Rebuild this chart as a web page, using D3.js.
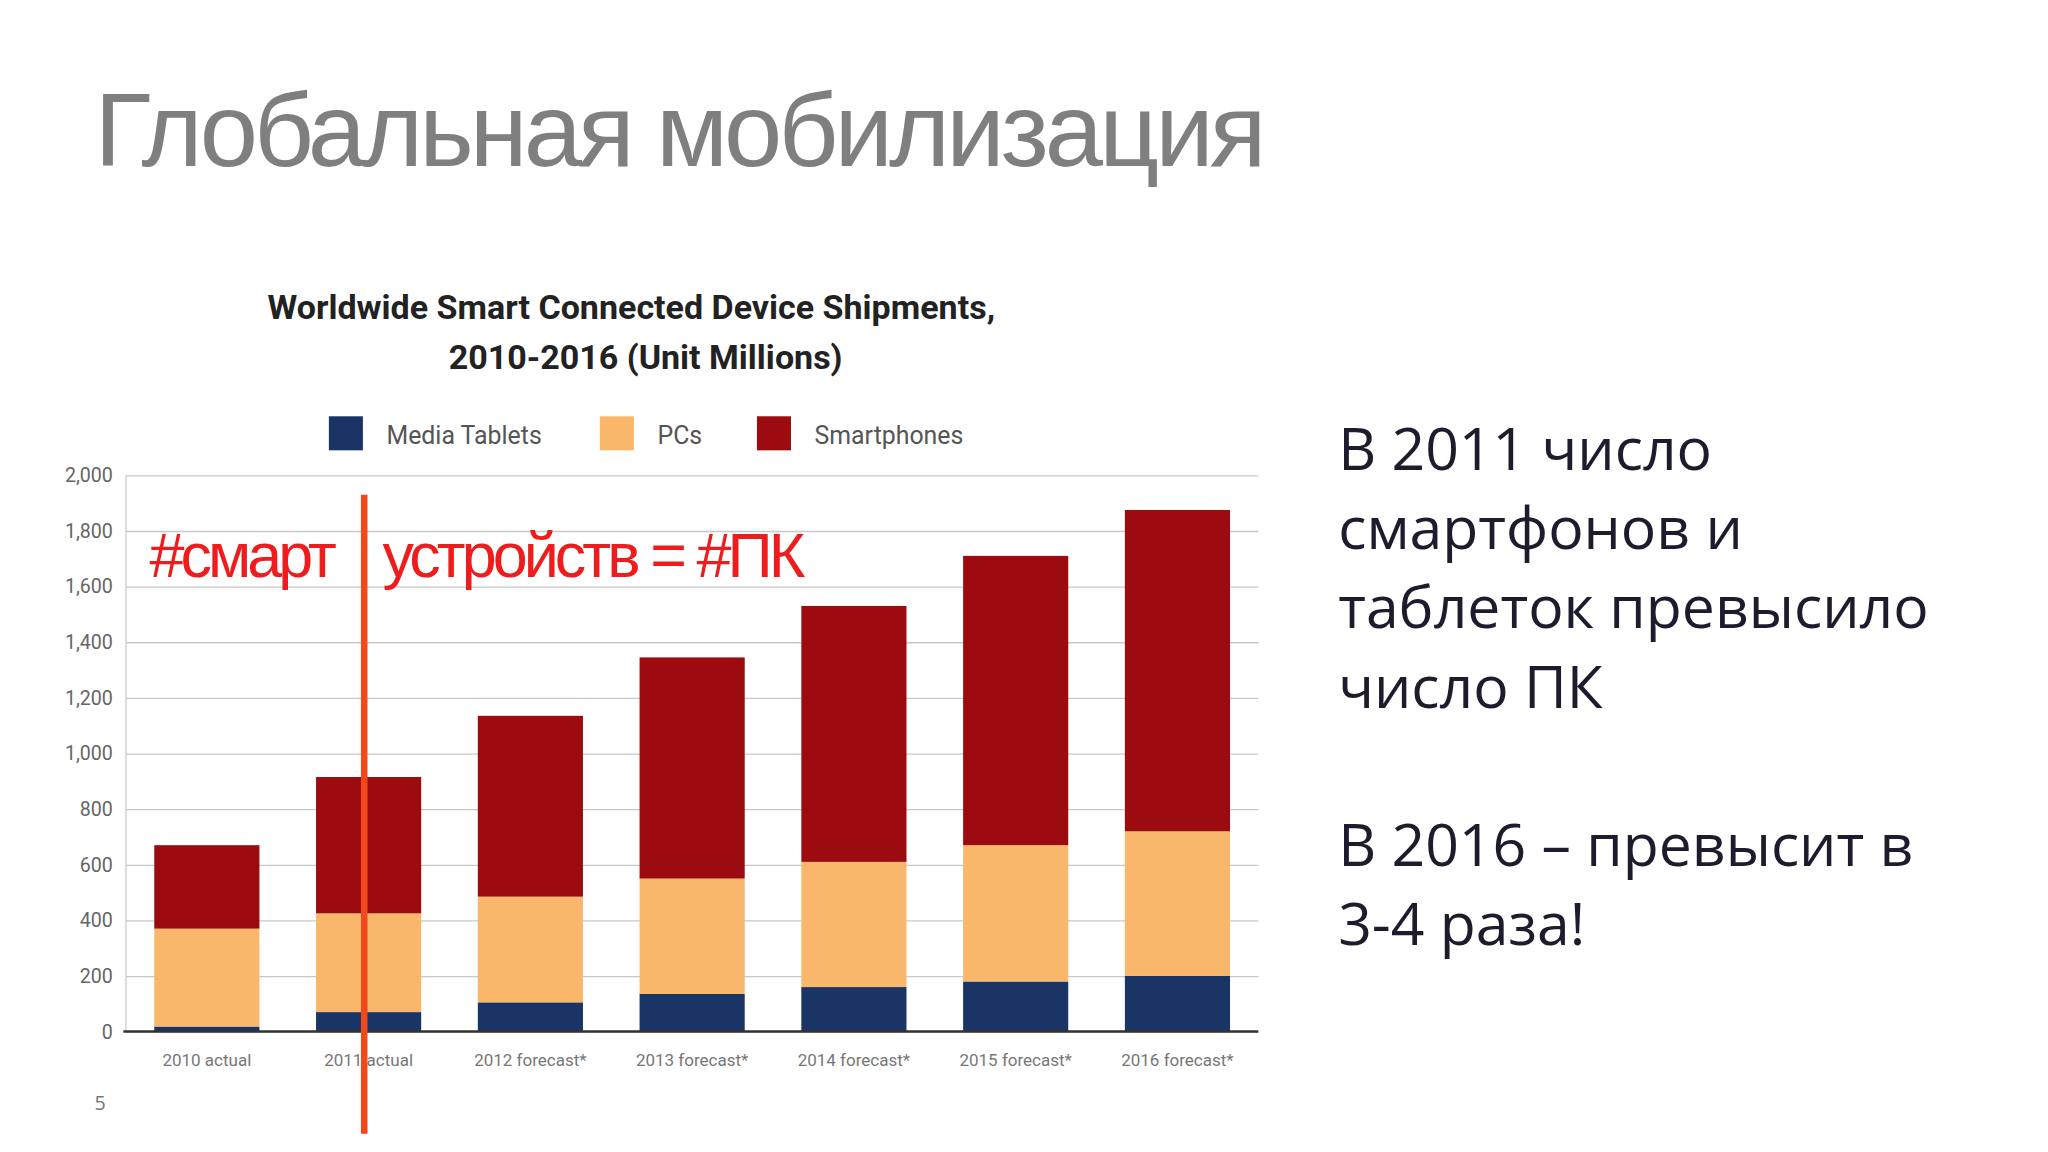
<!DOCTYPE html>
<html><head><meta charset="utf-8">
<script src="https://cdn.jsdelivr.net/npm/d3@7"></script>
<style>body{margin:0;background:#fff}</style></head>
<body><svg id="c"></svg>
<script>
const categories = ["2010 actual","2011 actual","2012 forecast*","2013 forecast*","2014 forecast*","2015 forecast*","2016 forecast*"];
const tablets = [18, 70, 105, 135, 160, 180, 200];
const pcs = [352, 355, 380, 415, 450, 490, 520];
const phones = [300, 490, 650, 795, 920, 1040, 1155];
const yTicks = [0,200,400,600,800,1000,1200,1400,1600,1800,2000];
const seriesNames = ["Media Tablets","PCs","Smartphones"];
const colors = ["#1b3466","#f8b76b","#9b0b0f"];

const svg = d3.select("#c").attr("width",2048).attr("height",1152).attr("viewBox","0 0 1552 880");
const rows = categories.map((c,i)=>({cat:c, t:tablets[i], p:pcs[i], s:phones[i]}));
const stack = d3.stack().keys(["t","p","s"])(rows);

const x = d3.scaleBand().domain(categories).range([90,955]).paddingInner(0.35).paddingOuter(0.175);
const y = d3.scaleLinear().domain([0,2000]).range([788,363]);

svg.append("text").attr("x",66).attr("y",127).attr("font-family","Liberation Sans, Arial").attr("font-size",80)
  .attr("fill","#7f7f7f").attr("letter-spacing",-3).text("Глобальная мобилизация");

svg.append("text").attr("x",476).attr("y",244).attr("text-anchor","middle").attr("font-family","Roboto").attr("font-weight","bold").attr("font-size",26).attr("fill","#222").text("Worldwide Smart Connected Device Shipments,");
svg.append("text").attr("x",487).attr("y",282).attr("text-anchor","middle").attr("font-family","Roboto").attr("font-weight","bold").attr("font-size",26).attr("fill","#222").text("2010-2016 (Unit Millions)");

// legend
const lx = [245, 452, 572];
seriesNames.forEach((n,i)=>{
  svg.append("rect").attr("x",lx[i]).attr("y",318).attr("width",26).attr("height",26).attr("fill",colors[i]);
  svg.append("text").attr("x",lx[i]+44).attr("y",339).attr("font-family","Roboto").attr("font-size",19).attr("fill","#555").text(n);
});

// grid + y axis
const ya = svg.append("g").attr("transform","translate(90,0)")
  .call(d3.axisLeft(y).tickValues(yTicks).tickSize(-865).tickFormat(d3.format(",")));
ya.select(".domain").remove();
ya.selectAll("line").attr("stroke","#c8c8c8");
ya.selectAll("text").attr("x",-10).attr("font-family","Roboto").attr("font-size",15).attr("fill","#666");
svg.append("line").attr("x1",90).attr("x2",90).attr("y1",363).attr("y2",788).attr("stroke","#ccc");

svg.append("g").selectAll("g").data(stack).join("g").attr("fill",(d,i)=>colors[i])
  .selectAll("rect").data(d=>d).join("rect")
  .attr("x",d=>x(d.data.cat)).attr("width",x.bandwidth())
  .attr("y",d=>y(d[1])).attr("height",d=>y(d[0])-y(d[1]));

svg.append("line").attr("x1",88).attr("x2",955).attr("y1",788).attr("y2",788).attr("stroke","#333").attr("stroke-width",2);

const xa = svg.append("g").attr("transform","translate(0,788)").call(d3.axisBottom(x).tickSize(0));
xa.select(".domain").remove();
xa.selectAll("text").attr("dy",23).attr("font-family","Roboto").attr("font-size",13).attr("fill","#777");

// annotation
svg.append("text").attr("x",108).attr("y",441).attr("font-family","Liberation Sans, Arial").attr("font-size",48)
  .attr("fill","#ee1c1c").attr("letter-spacing",-3).text("#смарт");
svg.append("text").attr("x",286).attr("y",441).attr("font-family","Liberation Sans, Arial").attr("font-size",48)
  .attr("fill","#ee1c1c").attr("letter-spacing",-3).text("устройств = #ПК");
svg.append("line").attr("x1",272).attr("x2",272).attr("y1",378).attr("y2",866).attr("stroke","#f04a1c").attr("stroke-width",5);

svg.append("text").attr("x",66).attr("y",848).attr("font-family","Open Sans").attr("font-size",15).attr("fill","#777").text("5");

const lines = ["В 2011 число","смартфонов и","таблеток превысило","число ПК","","В 2016 – превысит в","3-4 раза!"];
lines.forEach((t,i)=>{
  svg.append("text").attr("x",1016).attr("y",359+i*60.5).attr("font-family","Open Sans").attr("font-size",45).attr("fill","#1c1c2c").text(t);
});
</script></body></html>
